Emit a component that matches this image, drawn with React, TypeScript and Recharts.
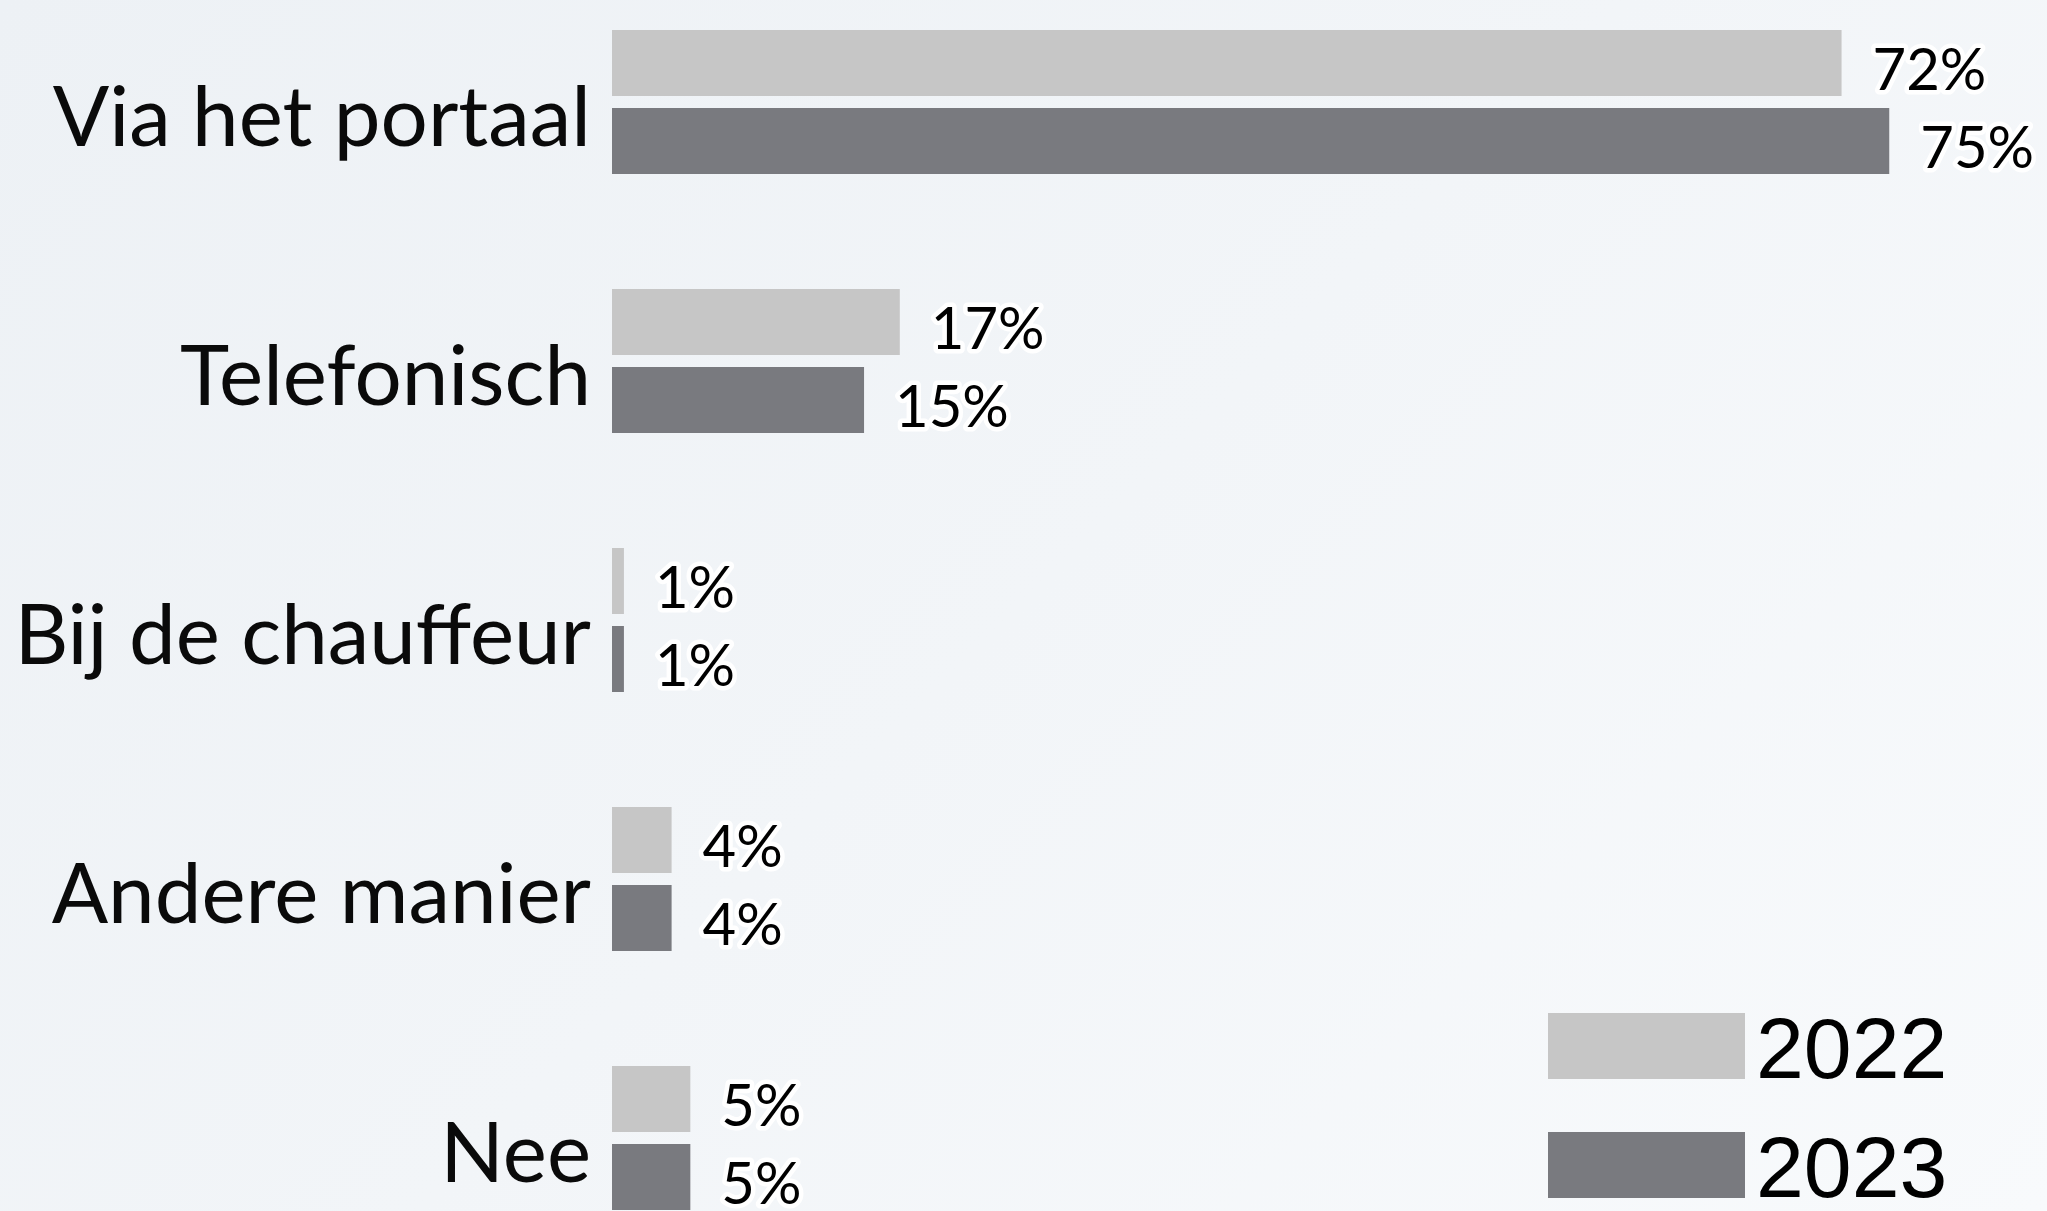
import React from 'react';
import { BarChart, Bar, XAxis, YAxis, LabelList, Legend } from 'recharts';

const categories = ['Via het portaal', 'Telefonisch', 'Bij de chauffeur', 'Andere manier', 'Nee'];
const values2022 = [72.2, 16.9, 0.7, 3.5, 4.6];
const values2023 = [75, 14.8, 0.7, 3.5, 4.6];
const seriesNames = ['2022', '2023'];
const seriesColors = ['#c6c6c6', '#797a7f'];

const data = categories.map((name, i) => ({ name, v2022: values2022[i], v2023: values2023[i] }));

const TOP_SHIFT = 28.5;

const CategoryTick = (props: any) => {
  const { x, y, payload } = props;
  return (
    <text
      x={x}
      y={y + 44}
      textAnchor="end"
      fontFamily="Lato, sans-serif"
      fontSize={83.5}
      fill="#0a0a0a"
    >
      {payload.value}
    </text>
  );
};

const ValueLabel = (props: any) => {
  const { x, y, width, height, value } = props;
  return (
    <text
      x={x + width + 31}
      y={y + height / 2 + 27}
      textAnchor="start"
      fontFamily="Lato, sans-serif"
      fontSize={58}
      fill="#000"
      stroke="#fff"
      strokeWidth={9}
      strokeLinejoin="round"
      paintOrder="stroke"
    >
      {`${Math.round(value)}%`}
    </text>
  );
};

const renderLegend = (props: any) => {
  const payload = props.payload || [];
  return (
    <svg width={480} height={200} style={{ display: 'block' }}>
      {payload.map((entry: any, i: number) => (
        <g key={entry.value}>
          <rect x={0} y={i * 119} width={197} height={66} fill={entry.color} />
          <text
            x={208}
            y={i * 119 + 65}
            fontFamily="'Liberation Sans', Arial, sans-serif"
            fontSize={86}
            fill="#000"
          >
            {entry.value}
          </text>
        </g>
      ))}
    </svg>
  );
};

export default function App() {
  return (
    <div
      style={{
        position: 'fixed',
        left: 0,
        top: 0,
        width: 2047,
        height: 1211,
        overflow: 'hidden',
        background: 'linear-gradient(135deg, #edf1f5 0%, #f2f5f8 50%, #f8fafc 100%)',
      }}
    >
      <div style={{ position: 'absolute', left: 0, top: -TOP_SHIFT }}>
        <BarChart
          width={2315}
          height={1295}
          data={data}
          layout="vertical"
          margin={{ top: 0, right: 0, bottom: 0, left: 0 }}
          barSize={66}
          barGap={12}
        >
          <XAxis type="number" domain={[0, 100]} hide />
          <YAxis
            type="category"
            dataKey="name"
            width={612}
            axisLine={false}
            tickLine={false}
            tickSize={0}
            tickMargin={21}
            tick={<CategoryTick />}
            interval={0}
          />
          <Legend
            content={renderLegend}
            layout="vertical"
            align="center"
            verticalAlign="middle"
            wrapperStyle={{ position: 'absolute', left: 1548, top: 1013 + TOP_SHIFT, width: 480, height: 200 }}
          />
          <Bar dataKey="v2022" name={seriesNames[0]} fill={seriesColors[0]} isAnimationActive={false}>
            <LabelList dataKey="v2022" content={<ValueLabel />} />
          </Bar>
          <Bar dataKey="v2023" name={seriesNames[1]} fill={seriesColors[1]} isAnimationActive={false}>
            <LabelList dataKey="v2023" content={<ValueLabel />} />
          </Bar>
        </BarChart>
      </div>
    </div>
  );
}
